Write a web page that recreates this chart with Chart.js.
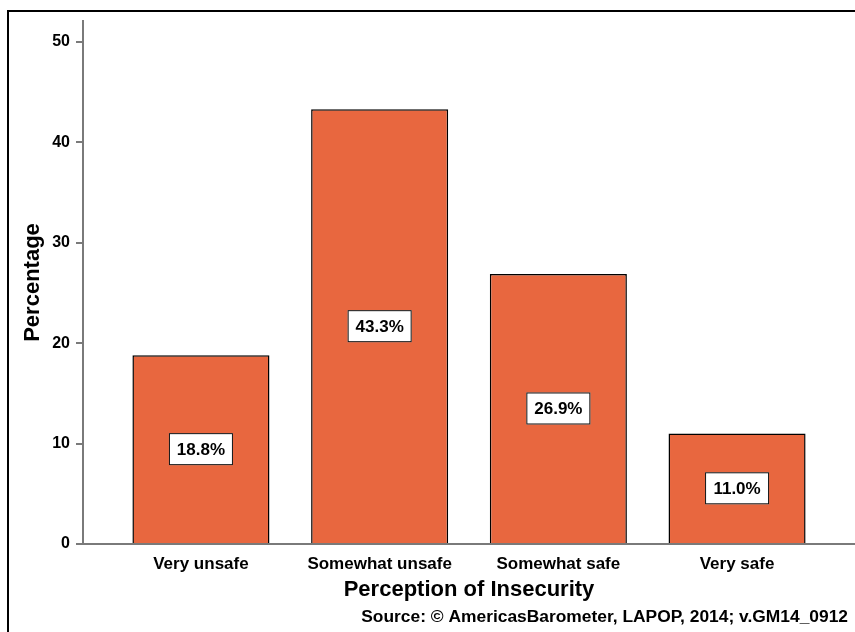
<!DOCTYPE html>
<html>
<head>
<meta charset="utf-8">
<script src="https://cdn.jsdelivr.net/npm/chart.js@4"></script>
<style>
  body { margin: 0; background: #fff; overflow: hidden; }
  #marco { position: absolute; left: 7px; top: 10px; width: 900px; height: 700px; border: 2px solid #000; }
  #caja { position: absolute; left: 0; top: 0; width: 855px; height: 632px; }
</style>
</head>
<body>
<div id="marco"></div>
<div id="caja"><canvas id="grafico" width="855" height="632"></canvas></div>
<script>
const categorias = ["Very unsafe", "Somewhat unsafe", "Somewhat safe", "Very safe"];
const porcentajes = [18.8, 43.3, 26.9, 11.0];
const ticksY = [0, 10, 20, 30, 40, 50];
const fuente = "Source: \u00A9 AmericasBarometer, LAPOP, 2014; v.GM14_0912";

const familia = "'Liberation Sans', Arial, sans-serif";

// etiquetas blancas en el centro de cada barra
const etiquetasBarras = {
  id: 'etiquetasBarras',
  afterDatasetsDraw(chart) {
    const ctx = chart.ctx;
    const meta = chart.getDatasetMeta(0);
    ctx.save();
    ctx.font = "bold 17px " + familia;
    ctx.textAlign = 'center';
    ctx.textBaseline = 'middle';
    meta.data.forEach((barra, i) => {
      const cx = barra.x;
      const cy = (barra.y + barra.base) / 2;
      ctx.fillStyle = '#fff';
      ctx.fillRect(cx - 32, cy - 16, 64, 32);
      ctx.strokeStyle = '#111';
      ctx.lineWidth = 1;
      ctx.strokeRect(cx - 31.5, cy - 15.5, 63, 31);
      ctx.fillStyle = '#000';
      ctx.fillText(porcentajes[i].toFixed(1) + '%', cx, cy + 1);
    });
    ctx.restore();
  }
};

// texto de la fuente abajo a la derecha
const textoFuente = {
  id: 'textoFuente',
  afterDraw(chart) {
    const ctx = chart.ctx;
    ctx.save();
    ctx.font = "bold 17.4px " + familia;
    ctx.fillStyle = '#000';
    ctx.textAlign = 'right';
    ctx.textBaseline = 'middle';
    ctx.fillText(fuente, 848, 617);
    ctx.restore();
  }
};

new Chart(document.getElementById('grafico'), {
  type: 'bar',
  data: {
    datasets: [{
      data: porcentajes.map((v, i) => ({ x: i, y: v })),
      backgroundColor: '#E8673F',
      borderColor: '#000',
      borderWidth: 1.5,
      barPercentage: 0.767,
      categoryPercentage: 1
    }]
  },
  options: {
    responsive: false,
    animation: false,
    layout: { padding: { top: 21, right: 0, left: 0, bottom: 0 } },
    plugins: {
      legend: { display: false },
      tooltip: { enabled: false }
    },
    scales: {
      x: {
        type: 'linear',
        offset: false,
        min: -0.66,
        max: 3.66,
        afterBuildTicks: (scale) => { scale.ticks = categorias.map((c, i) => ({ value: i })); },
        afterFit: (scale) => { scale.height = 88; },
        grid: { drawOnChartArea: false, drawTicks: false },
        border: { color: '#7a7a7a', width: 2 },
        ticks: {
          padding: 10,
          color: '#000',
          font: { family: familia, size: 17, weight: 'bold' },
          callback: (v) => categorias[v]
        },
        title: {
          display: true,
          text: 'Perception of Insecurity',
          color: '#000',
          font: { family: familia, size: 22, weight: 'bold' },
          padding: { top: 0, bottom: 29 }
        }
      },
      y: {
        min: 0,
        max: 52.1,
        afterBuildTicks: (scale) => { scale.ticks = ticksY.map(v => ({ value: v })); },
        afterFit: (scale) => { scale.width = 83; },
        grid: { drawOnChartArea: false, drawTicks: true, tickLength: 7, color: '#7a7a7a', lineWidth: 2 },
        border: { color: '#7a7a7a', width: 2 },
        ticks: {
          padding: 6,
          color: '#000',
          font: { family: familia, size: 16, weight: 'bold' }
        },
        title: {
          display: true,
          text: 'Percentage',
          color: '#000',
          font: { family: familia, size: 22, weight: 'bold' },
          padding: { top: 20, bottom: 0 }
        }
      }
    }
  },
  plugins: [etiquetasBarras, textoFuente]
});
</script>
</body>
</html>
